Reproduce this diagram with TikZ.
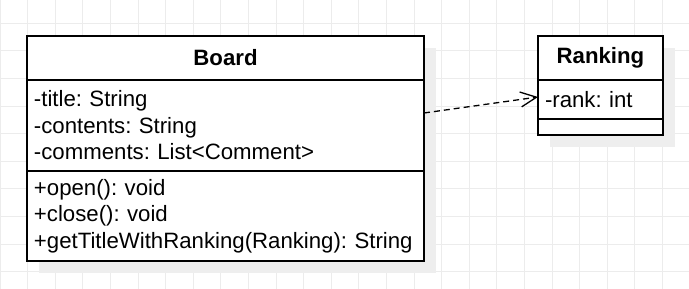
\documentclass[tikz,border=0pt]{standalone}
\usepackage{fontspec}
\setmainfont{Liberation Sans}
\usepackage{xcolor}
\usepackage{tikz}
\usetikzlibrary{arrows.meta, positioning, shadows}
\definecolor{gridgray}{HTML}{ECECEC}
\definecolor{shadowgray}{HTML}{EEEEEE}
\frenchspacing
\tikzstyle{gridline} = [draw=gridgray, line width=1pt]
\tikzstyle{compart} = [rectangle, draw=black, line width=1.5pt, fill=white, outer sep=0pt, inner xsep=7pt, inner ysep=0pt, font=\fontsize{22.2}{26.5}\selectfont, drop shadow={shadow xshift=11.5pt, shadow yshift=-11.5pt, fill=shadowgray, opacity=1}]
\tikzstyle{classname} = [compart, minimum height=44pt, align=center, font=\fontsize{22.2}{26.5}\selectfont\bfseries]
\tikzstyle{members} = [compart, align=left]
\tikzstyle{dependency} = [line width=1.3pt, dash pattern=on 6pt off 4pt, -{Straight Barb[length=16pt,width=15pt,line width=1.3pt]}]

\begin{document}
\begin{tikzpicture}[x=1pt, y=-1pt]
\useasboundingbox (0,0) rectangle (689,289);
% background grid
\foreach \gx in {0,...,24} \draw[gridline] (\gx*27.6,0) -- (\gx*27.6,289);
\foreach \gy in {0,...,9} \draw[gridline] (0,23.3+\gy*27.6) -- (689,23.3+\gy*27.6);

% class Board
\node (btitle) [classname, text width=383pt] at (225.5,58) {Board};
\node (battr) [members, text width=383pt, minimum height=91pt, below=0pt of btitle] {-title: String\\-contents: String\\-comments: List<Comment>};
\node (bops) [members, text width=383pt, minimum height=90pt, below=0pt of battr] {+open(): void\\+close(): void\\+getTitleWithRanking(Ranking): String};

% class Ranking
\node (rtitle) [classname, text width=111pt] at (600.5,58) {Ranking};
\node (rattr) [members, text width=111pt, minimum height=39pt, below=0pt of rtitle] {-rank: int};
\node (rops) [members, text width=111pt, minimum height=16pt, below=0pt of rattr] {};

\draw [dependency] ([yshift=12.5pt]battr.east) -- ([yshift=2.5pt]rattr.west);
\end{tikzpicture}
\end{document}
